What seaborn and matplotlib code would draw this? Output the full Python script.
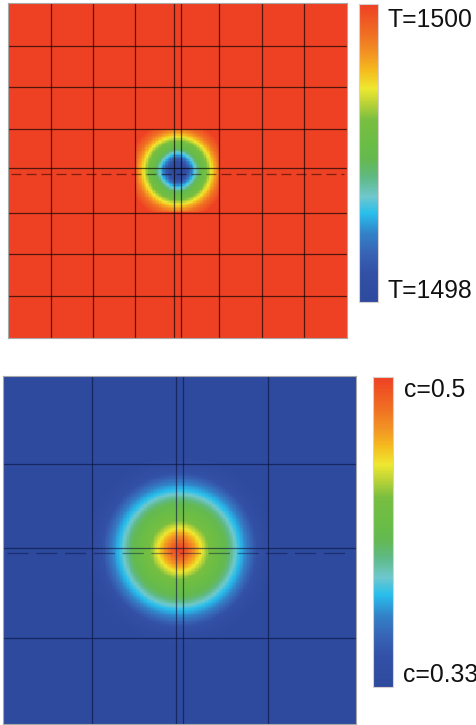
import numpy as np
import matplotlib
matplotlib.use("Agg")
import matplotlib.pyplot as plt
from matplotlib.colors import LinearSegmentedColormap
import seaborn as sns

plt.rcParams['font.family'] = ['Liberation Sans', 'DejaVu Sans']

# ---------------- data ----------------
# colour scale (position along bar, colour)
cmap_pos = [0.0, 0.096, 0.163, 0.23, 0.297, 0.353, 0.42, 0.476, 0.53, 0.61, 0.666, 0.717, 0.78, 0.83, 0.90, 1.0]
cmap_col = ['#2E4A9E', '#3250A5', '#3764B4', '#3282C8', '#28BEEC', '#6EC8CD', '#5FB982', '#64B950',
            '#6ABD45', '#78BE41', '#B9D237', '#EEE830', '#F5B91E', '#F29623', '#F06E23', '#EE4023']

# panel 1: temperature
T_min, T_max = 1498, 1500
T_labels = ["T=1500", "T=1498"]
T_radius_px = [0, 8, 12, 16, 19, 23, 28, 33, 38, 42, 50]
T_norm = [0.0, 0.05, 0.15, 0.28, 0.38, 0.50, 0.58, 0.70, 0.82, 0.90, 1.0]
T_patch = [0.375, 0.625]          # region (fraction) where the field is disturbed
T_vlines = [0.126, 0.250, 0.375, 0.489, 0.510, 0.623, 0.750, 0.874]
T_hlines = [0.127, 0.252, 0.377, 0.492, 0.626, 0.750, 0.876]
T_dash = 0.510

# panel 2: concentration
c_min, c_max = 0.33, 0.5
c_labels = ["c=0.5", "c=0.33"]
c_radius_px = [0, 5, 10, 17, 23, 30, 40, 48, 54, 60, 65, 70, 77, 85, 95]
c_norm = [1.0, 0.96, 0.90, 0.80, 0.70, 0.60, 0.52, 0.46, 0.38, 0.30, 0.25, 0.19, 0.10, 0.04, 0.0]
c_vlines = [0.251, 0.489, 0.510, 0.751]
c_hlines = [0.254, 0.493, 0.752]
c_dash = 0.509

cmap = LinearSegmentedColormap.from_list("rainbow_c", list(zip(cmap_pos, cmap_col)), N=512)

W, H = 476, 725
fig = plt.figure(figsize=(W / 100, H / 100), dpi=100)


def px_axes(x0, y0, x1, y1):
    return fig.add_axes([x0 / W, (H - y1) / H, (x1 - x0) / W, (y1 - y0) / H])


def field(nx, ny, wpx, hpx, radius, norm, patch=None):
    fx = (np.arange(nx) + 0.5) / nx
    fy = (np.arange(ny) + 0.5) / ny
    X, Y = np.meshgrid(fx, fy)
    dx = np.abs(X - 0.5) * wpx
    dy = np.abs(Y - 0.5) * hpx
    r2 = np.hypot(dx, dy)
    p = 1.55 + 0.45 * np.clip(r2 / 30.0, 0, 1)
    r = (dx ** p + dy ** p) ** (1 / p)
    v = np.interp(r, radius, norm)
    if patch is not None:
        inside = (X >= patch[0]) & (X <= patch[1]) & (Y >= patch[0]) & (Y <= patch[1])
        v = np.where(inside, v, 1.0)
    return v


def draw_panel(ax, cax, data, vmin, vmax, vlines, hlines, dash, lc, la, dashes):
    ny, nx = data.shape
    sns.heatmap(data, ax=ax, cmap=cmap, vmin=vmin, vmax=vmax, cbar_ax=cax,
                xticklabels=False, yticklabels=False, rasterized=True)
    for f in vlines:
        ax.axvline(f * nx, color=lc, alpha=la, lw=0.9)
    for f in hlines:
        ax.axhline(f * ny, color=lc, alpha=la, lw=0.9)
    ax.plot([0.01 * nx, 0.99 * nx], [dash * ny, dash * ny], color=lc, alpha=la * 0.75,
            lw=0.9, dashes=dashes)
    for s in ax.spines.values():
        s.set_visible(True)
        s.set_color('#A8A8A8')
        s.set_linewidth(0.8)
    ax.set_xticks([])
    ax.set_yticks([])
    cax.set_yticks([])
    cax.tick_params(length=0)
    for s in cax.spines.values():
        s.set_visible(False)
    cb = ax.collections[0].colorbar
    cb.outline.set_visible(True)
    cb.outline.set_edgecolor('#D8CFCF')
    cb.outline.set_linewidth(0.8)


# ---- top panel ----
ax1 = px_axes(8, 3, 347, 338)
cax1 = px_axes(359, 4, 378, 302)
nT = 240
T_field = T_min + (T_max - T_min) * field(nT, nT, 339, 335, T_radius_px, T_norm, T_patch)
draw_panel(ax1, cax1, T_field, T_min, T_max, T_vlines, T_hlines, T_dash, '#000000', 0.65, (8, 4))

# ---- bottom panel ----
ax2 = px_axes(3, 376, 356, 724)
cax2 = px_axes(373, 377, 393, 687)
nc = 250
c_field = c_min + (c_max - c_min) * field(nc, nc, 353, 348, c_radius_px, c_norm)
draw_panel(ax2, cax2, c_field, c_min, c_max, c_vlines, c_hlines, c_dash, '#08103A', 0.6, (17, 6))

# ---- labels ----
fs = 17.8
fig.text(388 / W, (H - 27) / H, T_labels[0], fontsize=fs, va='baseline', ha='left', color='#111111')
fig.text(388 / W, (H - 298) / H, T_labels[1], fontsize=fs, va='baseline', ha='left', color='#111111')
fig.text(404 / W, (H - 397) / H, c_labels[0], fontsize=fs, va='baseline', ha='left', color='#111111')
fig.text(403 / W, (H - 682) / H, c_labels[1], fontsize=fs, va='baseline', ha='left', color='#111111')

fig.savefig("out.png", dpi=100)
